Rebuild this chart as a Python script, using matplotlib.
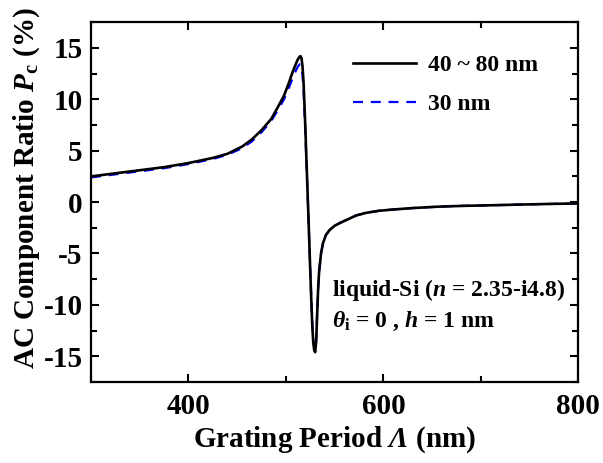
import numpy as np
import matplotlib
matplotlib.use("Agg")
import matplotlib.pyplot as plt
from matplotlib.ticker import MultipleLocator

plt.rcParams['font.family'] = ['Liberation Serif', 'DejaVu Serif']
plt.rcParams['font.weight'] = 'bold'
plt.rcParams['axes.unicode_minus'] = False
plt.rcParams['mathtext.fontset'] = 'custom'
plt.rcParams['mathtext.rm'] = 'Liberation Serif:bold'
plt.rcParams['mathtext.it'] = 'Liberation Serif:italic:bold'
plt.rcParams['mathtext.bf'] = 'Liberation Serif:bold'
plt.rcParams['mathtext.bfit'] = 'Liberation Serif:italic:bold'

# grating period (nm)
period = [300, 325, 350, 375, 400, 425, 440, 455, 465, 475, 485, 492, 498, 503,
          507, 510, 512, 514, 515, 516, 517, 518, 519, 520, 521, 522, 523, 524,
          525, 526, 527, 528, 529, 530, 531, 532, 533, 534, 536, 538, 541, 545,
          550, 556, 563, 572, 582, 595, 610, 630, 655, 680, 710, 740, 770, 800]

# AC component ratio (%), h = 40 ~ 80 nm
pc_40_80 = [2.5, 2.8, 3.1, 3.4, 3.8, 4.3, 4.7, 5.4, 6.1, 7.0, 8.1, 9.3, 10.35, 11.6,
            12.7, 13.4, 13.85, 14.15, 14.2, 14.0, 13.2, 11.8, 9.5, 7.0, 4.2, 1.5, -1.2, -4.0,
            -6.8, -9.5, -12.0, -13.6, -14.4, -14.6, -13.6, -11.0, -8.5, -6.8, -5.0, -4.0, -3.2, -2.7,
            -2.3, -2.0, -1.7, -1.3, -1.05, -0.85, -0.72, -0.58, -0.45, -0.37, -0.31, -0.24, -0.18, -0.13]

# AC component ratio (%), h = 30 nm
pc_30 = [2.4, 2.7, 3.0, 3.3, 3.7, 4.2, 4.6, 5.25, 5.9, 6.8, 7.9, 9.0, 10.0, 11.1,
         12.1, 12.75, 13.15, 13.4, 13.4, 13.1, 12.4, 11.0, 8.8, 6.5, 3.9, 1.3, -1.3, -4.0,
         -6.7, -9.3, -11.7, -13.3, -14.1, -14.3, -13.4, -10.9, -8.5, -6.8, -5.0, -4.0, -3.2, -2.7,
         -2.35, -2.0, -1.7, -1.3, -1.05, -0.85, -0.72, -0.58, -0.45, -0.37, -0.31, -0.24, -0.18, -0.13]

fig = plt.figure(figsize=(6.03, 4.63), dpi=100)
ax = fig.add_axes([0.151, 0.175, 0.808, 0.777])

ax.plot(period, pc_30, color='blue', ls=(0, (4.5, 3.5)), lw=1.6, label='30 nm', zorder=2)
ax.plot(period, pc_40_80, color='black', ls='-', lw=1.9, label='40 ~ 80 nm', zorder=3)

ax.set_xlim(300, 800)
ax.set_ylim(-17.5, 17.5)
ax.xaxis.set_major_locator(MultipleLocator(200))
ax.xaxis.set_minor_locator(MultipleLocator(100))
ax.yaxis.set_major_locator(MultipleLocator(5))
ax.yaxis.set_minor_locator(MultipleLocator(2.5))
ax.tick_params(which='both', direction='in', top=True, right=True, width=1.5, labelsize=21)
ax.tick_params(which='major', length=6)
ax.tick_params(which='minor', length=4)
ax.tick_params(axis='x', pad=8)
ax.tick_params(axis='y', pad=6)
for sp in ax.spines.values():
    sp.set_linewidth(1.6)

ax.set_xlabel(r"Grating Period $\mathbfit{Λ}$ (nm)", fontsize=21, fontweight='bold', labelpad=3)
ax.set_ylabel(r"AC Component Ratio $P_{\rm c}$ (%)", fontsize=21, fontweight='bold')
ax.yaxis.set_label_coords(-0.10, 0.54)

h, l = ax.get_legend_handles_labels()
ax.legend(h[::-1], l[::-1], loc='upper left', bbox_to_anchor=(0.493, 0.97), frameon=False,
          fontsize=17, handlelength=2.7, handletextpad=0.5, labelspacing=0.75)

ax.text(0.495, 0.255, r"liquid-Si ($n$ = 2.35-i4.8)", transform=ax.transAxes,
        fontsize=17, fontweight='bold', ha='left', va='center')
ax.text(0.495, 0.168, r"$\theta_{\rm i}$ = 0 , $h$ = 1 nm", transform=ax.transAxes,
        fontsize=17, fontweight='bold', ha='left', va='center')

fig.savefig("out.png", dpi=100)
